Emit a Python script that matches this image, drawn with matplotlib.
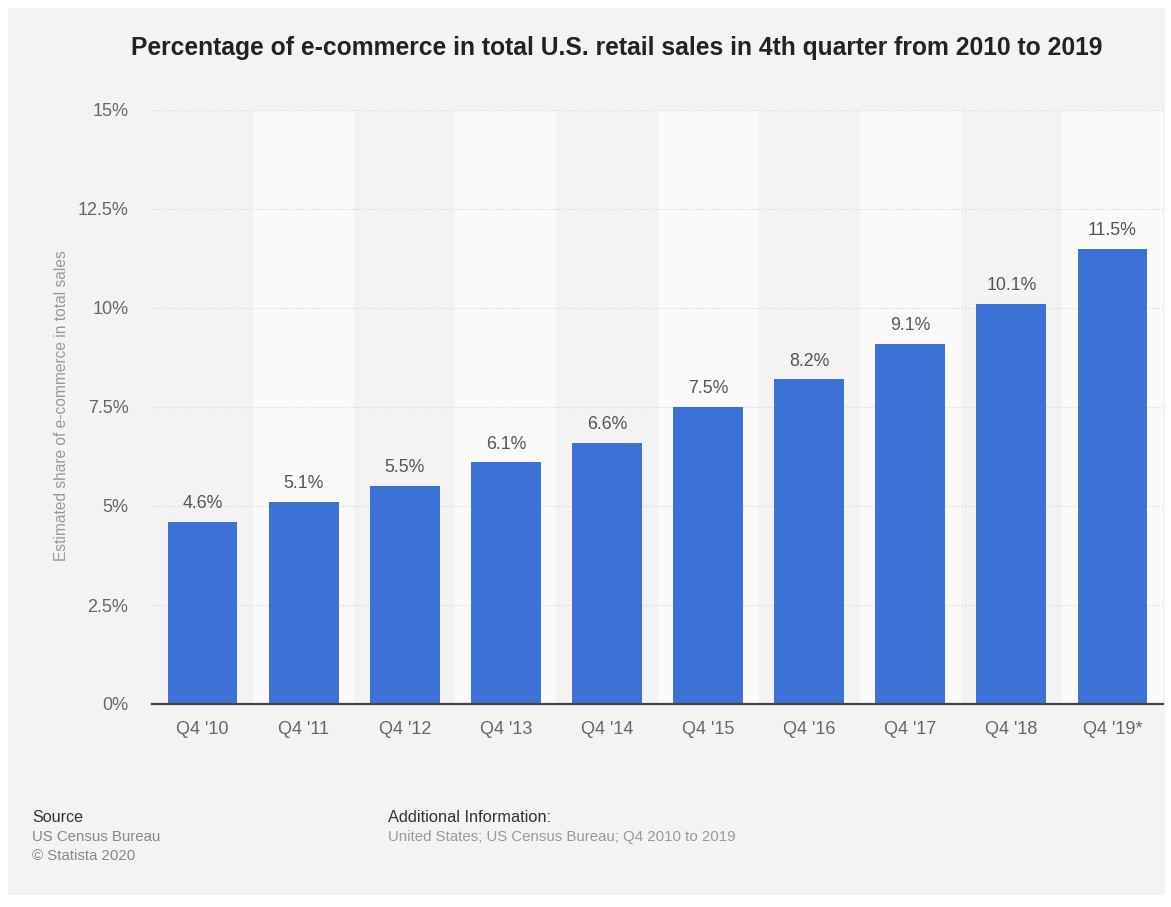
import numpy as np
import matplotlib.pyplot as plt
from matplotlib.patches import Rectangle

plt.rcParams['font.family'] = ['Liberation Sans', 'DejaVu Sans']

quarters = ["Q4 '10", "Q4 '11", "Q4 '12", "Q4 '13", "Q4 '14",
            "Q4 '15", "Q4 '16", "Q4 '17", "Q4 '18", "Q4 '19*"]
share = [4.6, 5.1, 5.5, 6.1, 6.6, 7.5, 8.2, 9.1, 10.1, 11.5]
yticks = [0, 2.5, 5, 7.5, 10, 12.5, 15]
ytick_labels = ['0%', '2.5%', '5%', '7.5%', '10%', '12.5%', '15%']

W, H = 1171, 907
fig = plt.figure(figsize=(W / 100, H / 100), dpi=100)
fig.patch.set_facecolor('white')
# grey card behind everything
fig.patches.append(Rectangle((8 / W, 12 / H), 1157 / W, 887 / H,
                             transform=fig.transFigure, facecolor='#f3f3f3',
                             edgecolor='none', zorder=-1))

ax = fig.add_axes([152 / W, 1 - 704 / H, 1011 / W, 594 / H])
ax.set_zorder(1)
ax.set_facecolor('none')
x = np.arange(len(quarters))

# lighter background stripes on every other column
for i in x[1::2]:
    ax.add_patch(Rectangle((i - 0.5, 0), 1, 15, facecolor='#fafafa',
                           edgecolor='none', zorder=0))

ax.hlines(yticks[1:], -0.5, 9.5, colors='#d6d6d6', linestyles=(0, (1, 1.5)),
          linewidth=0.9, zorder=1)

bars = ax.bar(x, share, width=0.69, color='#3c72d5', zorder=2)
for xi, v in zip(x, share):
    ax.annotate(f'{v:g}%', (xi, v), xytext=(0, 7), textcoords='offset points',
                ha='center', va='bottom', fontsize=12.8, color='#555555')

ax.set_xlim(-0.5, 9.5)
ax.set_ylim(0, 15)
ax.set_xticks(x)
ax.set_xticklabels(quarters, fontsize=13, color='#666666')
ax.set_yticks(yticks)
ax.set_yticklabels(ytick_labels, fontsize=13, color='#666666')
ax.tick_params(length=0)
ax.tick_params(axis='x', pad=12)
ax.tick_params(axis='y', pad=17)
for s in ['top', 'right', 'left']:
    ax.spines[s].set_visible(False)
ax.spines['bottom'].set_color('#444444')
ax.spines['bottom'].set_linewidth(1.6)
ax.spines['bottom'].set_zorder(3)

fig.text(62 / W, 1 - 406 / H, 'Estimated share of e-commerce in total sales',
         rotation=90, ha='center', va='center', fontsize=11.2, color='#999999')

fig.text(617 / W, 1 - 48 / H,
         'Percentage of e-commerce in total U.S. retail sales in 4th quarter from 2010 to 2019',
         ha='center', va='center', fontsize=17.7, fontweight='bold', color='#222222')

fig.text(32 / W, 1 - 817 / H, 'Source', ha='left', va='center',
         fontsize=11.6, color='#333333')
fig.text(32 / W, 1 - 837 / H, 'US Census Bureau', ha='left', va='center',
         fontsize=10.8, color='#888888')
fig.text(32 / W, 1 - 856 / H, '\u00a9 Statista 2020', ha='left', va='center',
         fontsize=10.8, color='#888888')
fig.text(388 / W, 1 - 817 / H, 'Additional Information:', ha='left', va='center',
         fontsize=11.8, color='#333333')
fig.text(388 / W, 1 - 837 / H, 'United States; US Census Bureau; Q4 2010 to 2019',
         ha='left', va='center', fontsize=10.8, color='#999999')

fig.savefig('out.png', dpi=100)
